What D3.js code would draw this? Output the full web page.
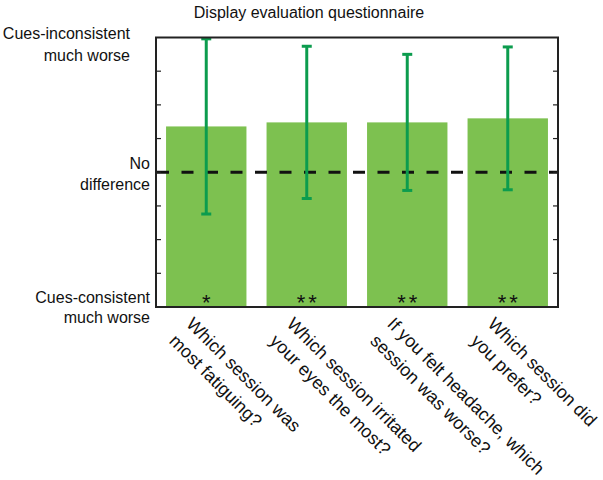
<!DOCTYPE html>
<html><head><meta charset="utf-8">
<script src="https://cdn.jsdelivr.net/npm/d3@7"></script>
<style>body{margin:0;background:#fff;} text{font-family:"Liberation Sans",Arial,Helvetica,sans-serif;fill:#111;}</style>
</head><body>
<svg id="chart" width="603" height="480"></svg>
<script>
const title = "Display evaluation questionnaire";
const categories = [
  ["Which session was", "most fatiguing?"],
  ["Which session irritated", "your eyes the most?"],
  ["If you felt headache, which", "session was worse?"],
  ["Which session did", "you prefer?"]
];
const means = [1.36, 1.48, 1.48, 1.60];
const errors = [2.60, 2.26, 2.02, 2.12];
const significance = ["*", "**", "**", "**"];
const yTicks = [-3, -2, -1, 0, 1, 2, 3];
const yLabelValues = [4, 0, -4];
const yLabelLines = [["Cues-inconsistent", "much worse"], ["No", "difference"], ["Cues-consistent", "much worse"]];

const svg = d3.select("#chart");
const L = 156, R = 558, T = 37.5, B = 307;

const x = d3.scaleBand().domain(d3.range(categories.length)).range([L, R]).paddingInner(0.2).paddingOuter(0.1);
const y = d3.scaleLinear().domain([-4, 4]).range([B, T]);

// bars
svg.append("g").selectAll("rect").data(means).join("rect")
  .attr("x", (d, i) => x(i)).attr("width", x.bandwidth())
  .attr("y", d => y(d)).attr("height", d => y(-4) - y(d))
  .attr("fill", "#7dc150");

// zero dashed line
svg.append("line").attr("x1", L + 1).attr("x2", R).attr("y1", y(0)).attr("y2", y(0))
  .attr("stroke", "#111").attr("stroke-width", 3).attr("stroke-dasharray", "12,12.5");

// error bars
const eg = svg.append("g").attr("stroke", "#0c9c4e").attr("stroke-width", 3);
means.forEach((m, i) => {
  const cx = x(i) + x.bandwidth() / 2;
  const lo = y(m - errors[i]), hi = y(m + errors[i]);
  eg.append("line").attr("x1", cx).attr("x2", cx).attr("y1", lo).attr("y2", hi);
  eg.append("line").attr("x1", cx - 5).attr("x2", cx + 5).attr("y1", lo).attr("y2", lo);
  eg.append("line").attr("x1", cx - 5).attr("x2", cx + 5).attr("y1", hi).attr("y2", hi);
});

// significance stars
svg.append("g").selectAll("text").data(significance).join("text")
  .attr("x", (d, i) => x(i) + x.bandwidth() / 2 + 1.5)
  .attr("y", y(-4) + 3)
  .attr("text-anchor", "middle").attr("font-size", 22).attr("letter-spacing", "3px")
  .text(d => d);

// frame
svg.append("rect").attr("x", L).attr("y", T).attr("width", R - L).attr("height", B - T)
  .attr("fill", "none").attr("stroke", "#222").attr("stroke-width", 2);

// ticks (inward, both sides)
const tg = svg.append("g").attr("stroke", "#222").attr("stroke-width", 1.2);
yTicks.forEach(t => {
  tg.append("line").attr("x1", L).attr("x2", L + 5).attr("y1", y(t)).attr("y2", y(t));
  tg.append("line").attr("x1", R).attr("x2", R - 5).attr("y1", y(t)).attr("y2", y(t));
});

// y labels
const yRight = [L - 26, L - 6, L - 6];
const firstOff = [1, -3, -4];
const lineH = [22, 21, 20];
yLabelValues.forEach((v, i) => {
  const t = svg.append("text").attr("text-anchor", "end").attr("font-size", 16);
  yLabelLines[i].forEach((s, j) => {
    t.append("tspan").attr("x", yRight[i]).attr("y", y(v) + firstOff[i] + j * lineH[i]).text(s);
  });
});

// title
svg.append("text").attr("x", 309).attr("y", 18).attr("text-anchor", "middle")
  .attr("font-size", 16).text(title);

// x labels rotated
categories.forEach((lines, i) => {
  const cx = x(i) + x.bandwidth() / 2;
  const t = svg.append("text").attr("font-size", 18)
    .attr("transform", `translate(${cx - 21},${B + 18}) rotate(45)`);
  lines.forEach((s, j) => {
    t.append("tspan").attr("x", 0).attr("y", j * 24).text(s);
  });
});
</script>
</body></html>
